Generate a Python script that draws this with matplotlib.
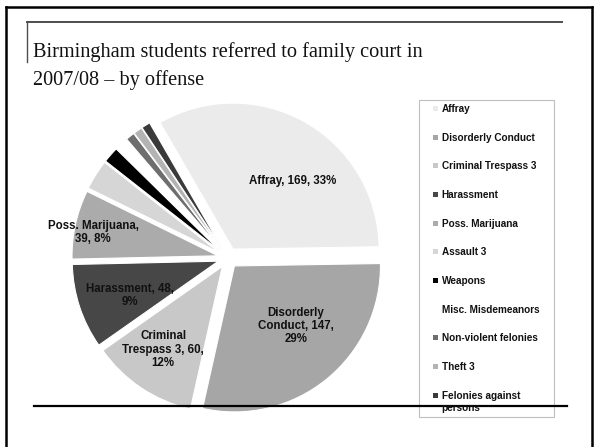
import numpy as np
import matplotlib.pyplot as plt
from matplotlib.lines import Line2D
from matplotlib.patches import Rectangle

# data
offenses = ['Affray', 'Disorderly Conduct', 'Criminal Trespass 3', 'Harassment',
            'Poss. Marijuana', 'Assault 3', 'Weapons', 'Misc. Misdemeanors',
            'Non-violent felonies', 'Theft 3', 'Felonies against persons']
counts = [169, 147, 60, 48, 39, 17, 9, 7, 5, 5, 5]
slice_labels = ['Affray, 169, 33%', 'Disorderly\nConduct, 147,\n29%',
                'Criminal\nTrespass 3, 60,\n12%', 'Harassment, 48,\n9%',
                'Poss. Marijuana,\n39, 8%', '', '', '', '', '', '']
legend_labels = ['Affray', 'Disorderly Conduct', 'Criminal Trespass 3', 'Harassment',
                 'Poss. Marijuana', 'Assault 3', 'Weapons', 'Misc. Misdemeanors',
                 'Non-violent felonies', 'Theft 3', 'Felonies against\npersons']
title_lines = ['Birmingham students referred to family court in', '2007/08 \u2013 by offense']

# styling
colors = ['#EBEBEB', '#A6A6A6', '#C8C8C8', '#474747', '#ABABAB', '#D6D6D6',
          '#000000', '#FFFFFF', '#6E6E6E', '#B3B3B3', '#3A3A3A']
label_dist = [0.62, 0.59, 0.70, 0.65, 0.87]
label_rot = [-12, 6.5, -1.6, 2.8, 2.0]

W, H = 594, 447
fig = plt.figure(figsize=(W / 100, H / 100), dpi=100)

def fx(x):
    return x / W

def fy(y):
    return 1 - y / H

# pie placement in pixels
cx, cy, r = 228, 258, 146
lim = 1.2
ax = fig.add_axes([(cx - lim * r) / W, 1 - (cy + lim * r) / H, 2 * lim * r / W, 2 * lim * r / H])
wedges, _ = ax.pie(counts, colors=colors, startangle=120, counterclock=False,
                   explode=[0.07] * len(counts),
                   wedgeprops=dict(edgecolor='white', linewidth=0.8))
ax.set_xlim(-lim, lim)
ax.set_ylim(-lim, lim)
ax.axis('off')

for i, w in enumerate(wedges):
    if not slice_labels[i]:
        continue
    ang = np.deg2rad((w.theta1 + w.theta2) / 2 + label_rot[i])
    x0, y0 = w.center
    ax.text(x0 + label_dist[i] * np.cos(ang), y0 + label_dist[i] * np.sin(ang),
            slice_labels[i], ha='center', va='center', fontsize=8.3,
            fontweight='bold', family='Liberation Sans', linespacing=1.15, color='#111111')

# title
for k, line in enumerate(title_lines):
    fig.text(fx(33), fy(52 + 28 * k), line, ha='left', va='center',
             fontsize=14.6, family='Liberation Serif', color='#111111')

# legend drawn by hand to match the slide layout
fig.add_artist(Rectangle((fx(419), fy(417)), fx(554) - fx(419), fy(100) - fy(417),
                         transform=fig.transFigure, facecolor='none',
                         edgecolor='#BFBFBF', linewidth=0.8))
for i, lab in enumerate(legend_labels):
    ypx = 108.3 + 28.7 * i
    fig.add_artist(Rectangle((fx(433), fy(ypx + 2.5)), 5 / W, 5 / H,
                             transform=fig.transFigure, facecolor=colors[i],
                             edgecolor='none'))
    for j, part in enumerate(lab.split('\n')):
        fig.text(fx(441.5), fy(ypx + 3.5 + 12 * j), part, ha='left', va='baseline',
                 fontsize=7.2, fontweight='bold', family='Liberation Sans',
                 color='#111111')

# slide frame and rules
frame = dict(transform=fig.transFigure, color='black', linewidth=1.8)
fig.add_artist(Line2D([fx(5.5), fx(5.5)], [fy(7), fy(450)], **frame))
fig.add_artist(Line2D([fx(5.5), fx(591.5)], [fy(7), fy(7)], **frame))
fig.add_artist(Line2D([fx(591.5), fx(591.5)], [fy(7), fy(450)], **frame))
fig.add_artist(Line2D([fx(27), fx(562)], [fy(22), fy(22)], transform=fig.transFigure,
                      color='#4D4D4D', linewidth=1.4))
fig.add_artist(Line2D([fx(27), fx(27)], [fy(22), fy(62)], transform=fig.transFigure,
                      color='#4D4D4D', linewidth=1.0))
fig.add_artist(Line2D([fx(34), fx(567)], [fy(405.7), fy(405.7)], transform=fig.transFigure,
                      color='black', linewidth=1.6))

fig.savefig('out.png', dpi=100)
